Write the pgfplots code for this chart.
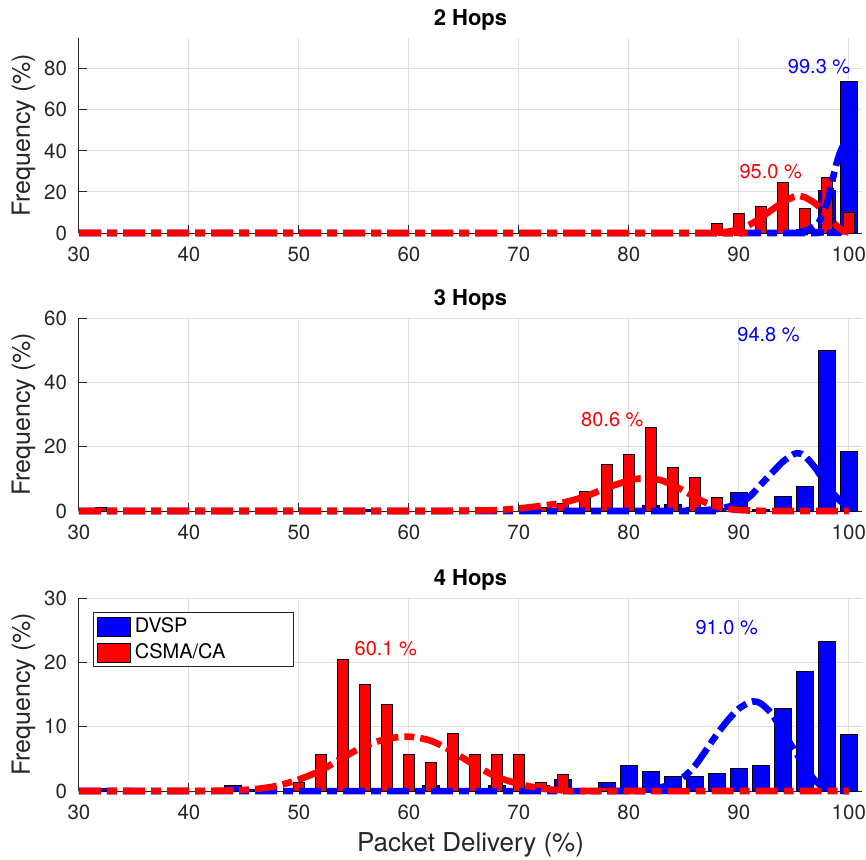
\documentclass[border=0pt]{standalone}
\usepackage{pgfplots}
\pgfplotsset{compat=1.18}
\usepackage{fontspec}
\setmainfont{TeX Gyre Heros}
\definecolor{axisgray}{RGB}{38,38,38}
\definecolor{gridgray}{RGB}{223,223,223}
\tikzset{lab/.style={font=\fontsize{10}{12}\selectfont, anchor=center}}
\pgfplotsset{
  every axis title shift=0pt,
  common/.style={
    scale only axis, width=391.5pt,
    xmin=30, xmax=101.2, ymin=0,
    axis x line=bottom, axis y line=left,
    axis line style={-, color=axisgray, line width=0.5pt},
    tick align=inside, major tick length=4pt,
    tick style={color=axisgray, line width=0.5pt},
    xtick={30,40,...,100},
    grid=major, grid style={color=gridgray, line width=0.5pt},
    ticklabel style={font=\fontsize{10.25}{12}\selectfont, text=axisgray},
    /pgf/number format/assume math mode=true,
    xticklabel style={yshift=-3.5pt},
    yticklabel style={xshift=-2.5pt},
    ylabel={Frequency (\%)},
    ylabel style={font=\fontsize{12.5}{14}\selectfont, text=axisgray, at={(axis description cs:0,0.5)}, anchor=center, yshift=27.75pt},
    title style={font=\bfseries\fontsize{11}{13}\selectfont, at={(axis description cs:0.5,1)}, anchor=center, yshift=9pt},
    clip=false,
  },
  bblue/.style={ybar, bar width=1.6, bar shift=0pt, fill=blue, draw=black, line width=0.5pt},
  bred/.style={ybar, bar width=1.0, bar shift=0pt, fill=red, draw=black, line width=0.5pt},
  cblue/.style={blue, line width=3.3pt, smooth, tension=0.5, dash pattern=on 11pt off 3pt on 5pt off 3pt, forget plot},
  cred/.style={red, line width=3.3pt, smooth, tension=0.5, dash pattern=on 11pt off 3pt on 5pt off 3pt, forget plot},
}
\begin{document}
\begin{tikzpicture}[x=1pt,y=1pt]
\useasboundingbox (0,0) rectangle (433,429.5);
% ---------- 2 Hops ----------
\begin{axis}[common, at={(39.5pt,313pt)}, anchor=south west, height=97.5pt,
  ymax=95, ytick={0,20,40,60,80}, title={2 Hops}]
\addplot[bblue] coordinates {(92,0.5) (94,1) (96,1.5) (98,20.5) (100,74)};
\addplot[bred] coordinates {(88,4.5) (90,9.4) (92,12.8) (94,24.5) (96,12) (98,27) (100,10)};
\addplot[cblue] coordinates {(30,0) (95,0) (95.6,0.5) (96,1) (96.6,2.3) (97,3.8) (97.3,5.5) (97.7,10) (98.1,16) (98.4,23) (98.7,30) (99,36) (99.3,40.5) (99.6,43.5) (100,45)};
\addplot[cred] coordinates {(30,0) (87,0) (88,0.2) (89,0.7) (90,1.9) (91,4.1) (92,7.4) (93,11.3) (94,15) (95,17.6) (95.6,18) (96,17.4) (97,14.2) (98,8.6) (99,3) (99.5,1) (100,0.3)};
\node[lab, text=blue] at (axis cs:97.3,81.1) {99.3 \%};
\node[lab, text=red] at (axis cs:92.9,29.9) {95.0 \%};
\end{axis}
% ---------- 3 Hops ----------
\begin{axis}[common, at={(39.5pt,174pt)}, anchor=south west, height=96.5pt,
  ymax=60, ytick={0,20,40,60}, title={3 Hops}]
\addplot[bblue] coordinates {(56,0.5) (78,0.5) (80,0.5) (82,1.8) (84,2) (86,1) (88,0.8) (90,5.7) (92,0.5) (94,4.4) (96,7.6) (98,50) (100,18.4)};
\addplot[bred] coordinates {(32,1) (72,1) (74,2.2) (76,6.2) (78,14.5) (80,17.6) (82,25.9) (84,13.5) (86,10.3) (88,4.1) (90,1.5)};
\addplot[cblue] coordinates {(30,0) (84,0) (86,0.1) (88,0.6) (89,1.3) (90,2.2) (91,4.5) (92,8.2) (93,11.8) (94,15.3) (95,17.7) (95.5,17.9) (96,17.1) (97,13.2) (98,7.8) (99,3.9) (100,0.7)};
\addplot[cred] coordinates {(30,0) (60,0) (64,0.05) (66,0.15) (68,0.3) (70,0.8) (72,1.6) (74,2.6) (76,4.5) (78,7.2) (80,9.5) (81,10.1) (82,10) (83,9.5) (84,8) (85,6.3) (86,4.3) (87,2.6) (88,1.4) (89,0.7) (90,0.3) (92,0.05) (94,0) (100,0)};
\node[lab, text=blue] at (axis cs:92.7,54.7) {94.8 \%};
\node[lab, text=red] at (axis cs:78.5,28.3) {80.6 \%};
\end{axis}
% ---------- 4 Hops ----------
\begin{axis}[common, at={(39.5pt,34pt)}, anchor=south west, height=96.5pt,
  ymax=30, ytick={0,10,20,30}, title={4 Hops},
  xlabel={Packet Delivery (\%)},
  xlabel style={font=\fontsize{13}{15}\selectfont, text=axisgray, at={(axis description cs:0.5,0)}, anchor=center, yshift=-27pt},
  legend style={at={(axis description cs:0.0183,0.926)}, anchor=north west, draw=axisgray, line width=0.5pt, fill=white,
    font=\fontsize{10}{12}\selectfont, inner xsep=1.5pt, inner ysep=0.5pt, row sep=0pt,
    nodes={text height=7.5pt, text depth=2pt, inner ysep=1.75pt, text width=76pt}},
  legend cell align=left,
  legend image code/.code={\draw[#1] (0pt,-4.75pt) rectangle (16.5pt,4.75pt);}]
\addplot[bblue] coordinates {(32,0.4) (44,0.9) (46,0.3) (62,0.9) (68,0.9) (72,0.8) (74,1.8) (76,0.3) (78,1.3) (80,4) (82,3.1) (84,2.3) (86,2.3) (88,2.7) (90,3.5) (92,4) (94,12.75) (96,18.5) (98,23.2) (100,8.8)};
\addlegendentry{DVSP}
\addplot[bred] coordinates {(50,1.3) (52,5.75) (54,20.5) (56,16.6) (58,13.5) (60,5.75) (62,4.5) (64,9) (66,5.75) (68,5.75) (70,5.75) (72,1.3) (74,2.6) (78,0.5)};
\addlegendentry{CSMA/CA}
\addplot[cblue] coordinates {(30,0) (80,0) (82,0.2) (83,0.6) (84,1.2) (85,2.2) (86,3.9) (87,6.3) (88,8.8) (89,11) (90,12.8) (91,13.8) (91.5,13.9) (92,13.6) (93,12) (94,9.2) (95,6.5) (96,3.8) (97,1.5) (98,0.4) (99,0.05) (100,0)};
\addplot[cred] coordinates {(30,0) (40,0) (44,0.1) (46,0.3) (48,0.8) (50,1.8) (52,3.2) (54,5.2) (56,7) (58,8.1) (60,8.45) (62,7.8) (64,6.1) (66,4) (68,2.2) (70,1.1) (72,0.4) (74,0.1) (76,0) (100,0)};
\node[lab, text=blue] at (axis cs:88.9,25.4) {91.0 \%};
\node[lab, text=red] at (axis cs:57.9,22.2) {60.1 \%};
\end{axis}
\end{tikzpicture}
\end{document}
